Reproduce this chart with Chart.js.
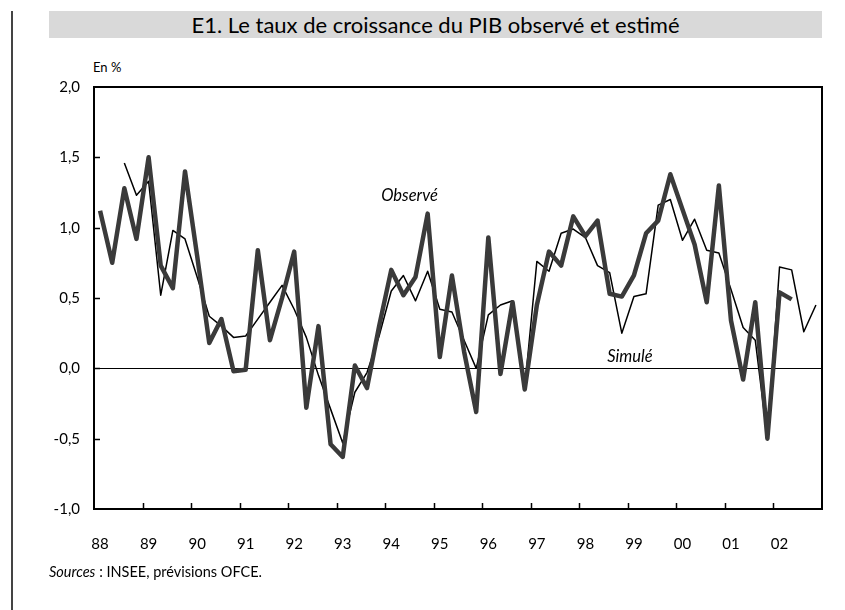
<!DOCTYPE html>
<html>
<head>
<meta charset="utf-8">
<script src="https://cdn.jsdelivr.net/npm/chart.js@4/dist/chart.umd.min.js"></script>
<style>
  body { margin: 0; background: #fff; font-family: Lato, sans-serif; }
  #wrap { position: relative; width: 845px; height: 610px; }
  #chart1 { position: absolute; left: 0; top: 0; }
  .vline { position: absolute; left: 11px; top: 11px; width: 2px; height: 599px; background: #444; }
  .title { position: absolute; left: 49px; top: 11px; width: 773px; height: 27px; background: #d9d9d9;
           text-align: center; font-size: 22px; line-height: 28px; color: #000; }
  .unit { position: absolute; left: 93px; top: 59px; font-size: 13px; color: #000; }
  .source { position: absolute; left: 49px; top: 563px; font-size: 14.5px; color: #000; }
</style>
</head>
<body>
<div id="wrap">
  <div class="vline"></div>
  <div class="title">E1. Le taux de croissance du PIB observé et estimé</div>
  <div class="unit">En %</div>
  <canvas id="chart1" width="845" height="610"></canvas>
  <div class="source"><i>Sources</i> : INSEE, prévisions OFCE.</div>
</div>
<script>
// Chart Data
const years = ['88', '89', '90', '91', '92', '93', '94', '95', '96', '97', '98', '99', '00', '01', '02'];
const quarters = years.flatMap(y => [y + 'T1', y + 'T2', y + 'T3', y + 'T4']);

const observe = [
    1.12, 0.75, 1.28, 0.92,
    1.50, 0.73, 0.57, 1.40,
    0.80, 0.18, 0.35, -0.02,
    -0.01, 0.84, 0.20, 0.50,
    0.83, -0.28, 0.30, -0.54,
    -0.63, 0.02, -0.14, 0.30,
    0.70, 0.52, 0.65, 1.10,
    0.08, 0.66, 0.12, -0.31,
    0.93, -0.04, 0.47, -0.15,
    0.45, 0.83, 0.73, 1.08,
    0.94, 1.05, 0.53, 0.51,
    0.66, 0.96, 1.05, 1.38,
    1.13, 0.88, 0.47, 1.30,
    0.34, -0.08, 0.47, -0.50,
    0.54, 0.49, null, null
];

const simule = [
    null, null, 1.46, 1.23,
    1.33, 0.52, 0.98, 0.92,
    0.65, 0.37, 0.30, 0.22,
    0.23, 0.35, 0.47, 0.59,
    0.42, 0.22, -0.05, -0.29,
    -0.53, -0.17, -0.03, 0.23,
    0.55, 0.66, 0.48, 0.69,
    0.42, 0.40, 0.20, 0.00,
    0.38, 0.45, 0.48, -0.14,
    0.76, 0.69, 0.96, 0.99,
    0.93, 0.73, 0.68, 0.25,
    0.51, 0.53, 1.16, 1.20,
    0.91, 1.06, 0.84, 0.82,
    0.56, 0.29, 0.20, -0.50,
    0.72, 0.70, 0.26, 0.45
];

const yTicks = [-1.0, -0.5, 0.0, 0.5, 1.0, 1.5, 2.0];

// inside tick marks, frame and series labels
const decor = {
    id: 'decor',
    afterDraw(chart) {
        const c = chart.ctx;
        const a = chart.chartArea;
        const xs = chart.scales.x;
        const ys = chart.scales.y;
        c.save();
        c.strokeStyle = '#000';
        c.lineWidth = 1.5;
        c.beginPath();
        for (let i = 4; i < quarters.length; i += 4) {
            const x = Math.round((xs.getPixelForTick(i - 1) + xs.getPixelForTick(i)) / 2) + 0.5;
            c.moveTo(x, a.bottom);
            c.lineTo(x, a.bottom - 6);
        }
        yTicks.slice(1, -1).forEach(v => {
            const y = Math.round(ys.getPixelForValue(v)) + 0.5;
            c.moveTo(a.left, y);
            c.lineTo(a.left + 6, y);
        });
        c.stroke();
        c.lineWidth = 2;
        c.strokeRect(a.left, a.top, a.right - a.left, a.bottom - a.top);
        c.fillStyle = '#000';
        c.font = 'italic 16.5px Lato';
        c.textAlign = 'center';
        c.textBaseline = 'middle';
        const xo = (xs.getPixelForTick(25) + xs.getPixelForTick(26)) / 2;
        c.fillText('Observé', xo, ys.getPixelForValue(1.23));
        c.fillText('Simulé', xs.getPixelForTick(44) - 4, ys.getPixelForValue(0.08));
        c.restore();
    }
};

const ctx = document.getElementById('chart1').getContext('2d');
const chart1 = new Chart(ctx, {
    type: 'line',
    data: {
        labels: quarters,
        datasets: [
            {
                label: 'Observé',
                data: observe,
                borderColor: '#3a3a3a',
                borderWidth: 4.5,
                borderJoinStyle: 'round',
                pointRadius: 0,
                tension: 0,
            },
            {
                label: 'Simulé',
                data: simule,
                borderColor: '#000',
                borderWidth: 1.5,
                borderJoinStyle: 'round',
                pointRadius: 0,
                tension: 0,
            }
        ],
    },
    options: {
        responsive: false,
        animation: false,
        layout: {
            padding: { left: 30, right: 23, top: 87, bottom: 0 },
        },
        plugins: {
            legend: { display: false },
            tooltip: { enabled: false },
        },
        scales: {
            x: {
                type: 'category',
                offset: true,
                afterFit(scale) { scale.height = 101; },
                grid: { display: false },
                border: { display: false },
                ticks: {
                    autoSkip: false,
                    maxRotation: 0,
                    padding: 18,
                    color: '#000',
                    font: { family: 'Lato', size: 15 },
                    callback: (v, i) => (i % 4 === 0 ? years[i / 4] : ''),
                },
            },
            y: {
                min: -1,
                max: 2,
                afterFit(scale) { scale.width = 64; },
                afterBuildTicks(scale) { scale.ticks = yTicks.map(v => ({ value: v })); },
                grid: {
                    drawTicks: false,
                    color: c => (c.tick && c.tick.value === 0 ? '#000' : 'rgba(0,0,0,0)'),
                    lineWidth: 1,
                },
                border: { display: false },
                ticks: {
                    padding: 14,
                    color: '#000',
                    font: { family: 'Lato', size: 15 },
                    callback: v => v.toFixed(1).replace('.', ','),
                },
            },
        },
    },
    plugins: [decor],
});
</script>
</body>
</html>
